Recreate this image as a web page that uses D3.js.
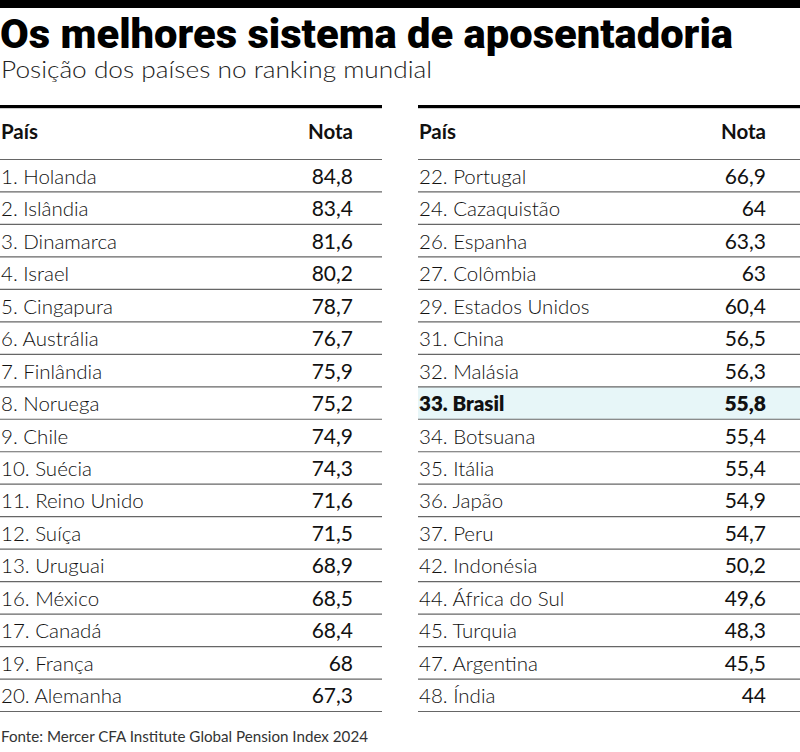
<!DOCTYPE html>
<html><head><meta charset="utf-8">
<script src="https://cdn.jsdelivr.net/npm/d3@7/dist/d3.min.js"></script>
<style>
body{margin:0;background:#fff;}
svg{display:block;}
</style></head>
<body>
<svg id="c" width="800" height="752"></svg>
<script>
const title = "Os melhores sistema de aposentadoria";
const subtitle = "Posição dos países no ranking mundial";
const source = "Fonte: Mercer CFA Institute Global Pension Index 2024";
const headers = ["País", "Nota"];

const ranks = [1,2,3,4,5,6,7,8,9,10,11,12,13,16,17,19,20,
               22,24,26,27,29,31,32,33,34,35,36,37,42,44,45,47,48];
const countries = ["Holanda","Islândia","Dinamarca","Israel","Cingapura","Austrália","Finlândia","Noruega","Chile","Suécia","Reino Unido","Suíça","Uruguai","México","Canadá","França","Alemanha",
                   "Portugal","Cazaquistão","Espanha","Colômbia","Estados Unidos","China","Malásia","Brasil","Botsuana","Itália","Japão","Peru","Indonésia","África do Sul","Turquia","Argentina","Índia"];
const scores = [84.8,83.4,81.6,80.2,78.7,76.7,75.9,75.2,74.9,74.3,71.6,71.5,68.9,68.5,68.4,68,67.3,
                66.9,64,63.3,63,60.4,56.5,56.3,55.8,55.4,55.4,54.9,54.7,50.2,49.6,48.3,45.5,44];
const highlight = "Brasil";

const svg = d3.select("#c");
const fmt = v => String(v).replace(".", ",");

const rows = ranks.map((r,i)=>({rank:r, country:countries[i], score:scores[i]}));
const perCol = Math.ceil(rows.length/2);
const columns = [rows.slice(0, perCol), rows.slice(perCol)];

// top bar
svg.append("rect").attr("x",0).attr("y",0).attr("width",800).attr("height",8).attr("fill","#000");

svg.append("text").attr("x",0).attr("y",48)
  .attr("font-family","Roboto, 'DejaVu Sans', sans-serif").attr("font-weight",900)
  .attr("font-size",41).attr("fill","#000")
  .attr("textLength",733).attr("lengthAdjust","spacingAndGlyphs")
  .text(title);

svg.append("text").attr("x",1).attr("y",78)
  .attr("font-family","Lato, 'Open Sans', sans-serif").attr("font-weight",300)
  .attr("font-size",22.5).attr("fill","#222")
  .attr("textLength",431).attr("lengthAdjust","spacingAndGlyphs")
  .text(subtitle);

const colX = [{x0:0, x1:382}, {x0:418, x1:800}];
const numRight = [353, 766];

const y = d3.scaleBand().domain(d3.range(perCol)).range([159.5, 711.5]);

columns.forEach((col, ci) => {
  const g = svg.append("g");
  const {x0, x1} = colX[ci];
  g.append("rect").attr("x",x0).attr("y",105).attr("width",x1-x0).attr("height",3.2).attr("fill","#000");
  g.append("text").attr("x",x0+1).attr("y",139)
    .attr("font-family","Lato, sans-serif").attr("font-weight",700).attr("font-size",20.5).attr("fill","#111")
    .text(headers[0]);
  g.append("text").attr("x",numRight[ci]).attr("y",139).attr("text-anchor","end")
    .attr("font-family","Lato, sans-serif").attr("font-weight",700).attr("font-size",20.5).attr("fill","#111")
    .text(headers[1]);
  col.forEach((d,i)=>{
    if (d.country === highlight) {
      g.append("rect").attr("x",x0).attr("y",y(i)).attr("width",x1-x0).attr("height",y.bandwidth())
        .attr("fill","#e7f6f8");
    }
  });
  g.append("line").attr("x1",x0).attr("x2",x1).attr("y1",y(0)).attr("y2",y(0))
    .attr("stroke","#666").attr("stroke-width",1.2);
  const rowG = g.selectAll("g.row").data(col).join("g").attr("class","row");
  rowG.append("line").attr("x1",x0).attr("x2",x1)
    .attr("y1",(d,i)=>y(i)+y.bandwidth()).attr("y2",(d,i)=>y(i)+y.bandwidth())
    .attr("stroke","#666").attr("stroke-width",1.2);
  rowG.append("text").attr("x",x0+1).attr("y",(d,i)=>y(i)+y.bandwidth()/2+8)
    .attr("font-family","Lato, 'Open Sans', sans-serif")
    .attr("font-weight",d=>d.country===highlight?800:300)
    .attr("font-size",20.5).attr("fill","#111")
    .text(d=>d.rank+". "+d.country);
  rowG.append("text").attr("x",numRight[ci]).attr("y",(d,i)=>y(i)+y.bandwidth()/2+8)
    .attr("text-anchor","end")
    .attr("font-family","Lato, 'Open Sans', sans-serif")
    .attr("font-weight",d=>d.country===highlight?800:400)
    .attr("font-size",21).attr("fill","#111")
    .text(d=>fmt(d.score));
});

svg.append("text").attr("x",1).attr("y",742)
  .attr("font-family","Lato, 'Open Sans', sans-serif").attr("font-weight",400)
  .attr("font-size",15).attr("fill","#333")
  .attr("textLength",367).attr("lengthAdjust","spacingAndGlyphs")
  .text(source);
</script>
</body></html>
